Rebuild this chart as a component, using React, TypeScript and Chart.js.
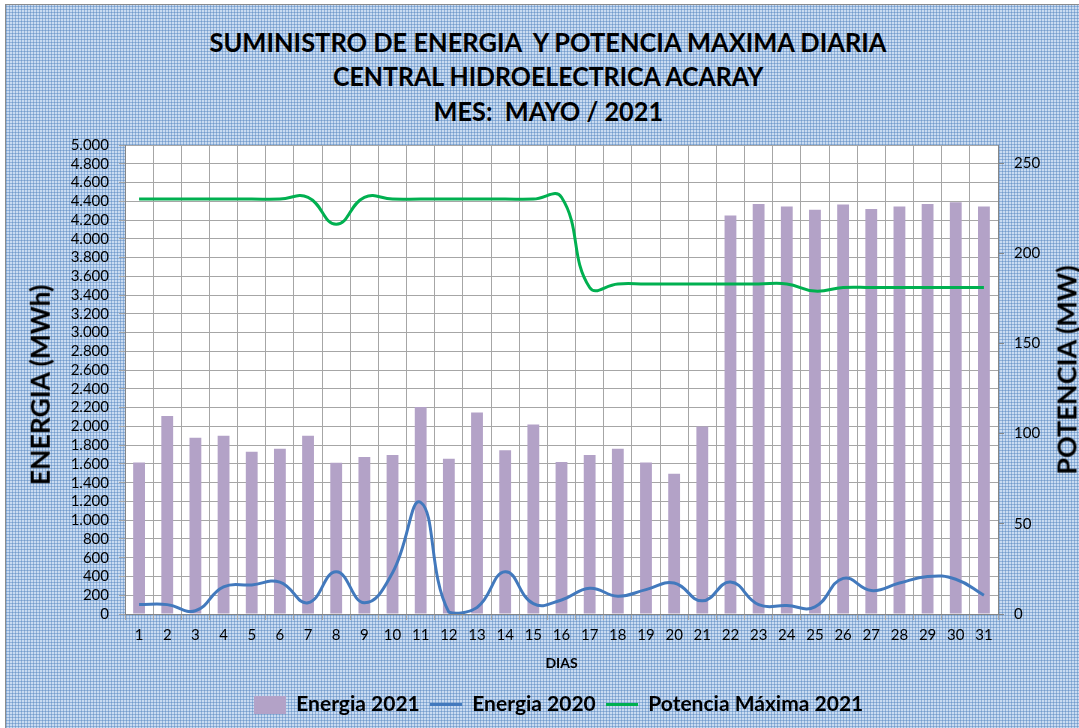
import React, { useEffect, useRef } from 'react';
import { Chart, registerables } from 'chart.js';

Chart.register(...registerables);

const DAYS = ['1','2','3','4','5','6','7','8','9','10','11','12','13','14','15','16','17','18','19','20','21','22','23','24','25','26','27','28','29','30','31'];
const ENERGIA_2021 = [1615, 2110, 1880, 1900, 1730, 1763, 1900, 1612, 1674, 1695, 2206, 1656, 2147, 1745, 2021, 1621, 1695, 1763, 1615, 1495, 2000, 4248, 4372, 4344, 4309, 4365, 4319, 4344, 4372, 4390, 4344];
const ENERGIA_2020 = [100, 100, 35, 290, 310, 340, 120, 450, 120, 440, 1190, 20, 70, 450, 110, 150, 275, 190, 260, 330, 140, 340, 100, 90, 75, 380, 250, 330, 400, 370, 200];
const POTENCIA_2021 = [230, 230, 230, 230, 230, 230, 231, 216, 231, 230, 230, 230, 230, 230, 230, 231, 181, 183, 183, 183, 183, 183, 183, 183, 179, 181, 181, 181, 181, 181, 181];

const SERIES_LABELS = ['Energia 2021', 'Energia 2020', 'Potencia Máxima 2021'];
const TITLE_LINES = ['SUMINISTRO DE ENERGIA  Y POTENCIA MAXIMA DIARIA', 'CENTRAL HIDROELECTRICA ACARAY', 'MES:  MAYO / 2021'];
const X_TITLE = 'DIAS';
const LEFT_TITLE = 'ENERGIA (MWh)';
const RIGHT_TITLE = 'POTENCIA (MW)';
const LEFT_MIN = 0;
const LEFT_MAX = 5000;
const LEFT_STEP = 200;
const RIGHT_MIN = 0;
const RIGHT_MAX = 260;
const RIGHT_STEP = 50;

const FONT = 'Lato, "Open Sans", "Liberation Sans", sans-serif';
const BAR_COLOR = '#b3a2c7';
const BLUE = '#4279bd';
const GREEN = '#00b050';
const GRID = '#a6a6a6';
const AXIS = '#868686';

const fmtThousands = (v: number) => String(Math.round(v)).replace(/\B(?=(\d{3})+(?!\d))/g, '.');

const plotBg = {
  id: 'plotBg',
  beforeDraw(chart: any) {
    const { ctx, chartArea: a } = chart;
    ctx.save();
    ctx.fillStyle = '#ffffff';
    ctx.fillRect(a.left, a.top, a.right - a.left, a.bottom - a.top);
    ctx.restore();
  },
};

function makeBox(w: number, h: number, color: string) {
  const c = document.createElement('canvas');
  c.width = w;
  c.height = h;
  const g = c.getContext('2d')!;
  g.fillStyle = color;
  g.fillRect(0, 0, w, h);
  return c;
}

const TITLE_TARGETS = [
  { center: 42, width: 677 },
  { center: 76, width: 430 },
  { center: 111, width: 230 },
];

const LEFT_PAD = 38;

export default function App() {
  const canvasRef = useRef<HTMLCanvasElement | null>(null);
  const spanRefs = useRef<(HTMLSpanElement | null)[]>([]);

  useEffect(() => {
    spanRefs.current.forEach((s, i) => {
      if (!s) return;
      const w = s.offsetWidth;
      if (w > 0) s.style.transform = `scaleX(${TITLE_TARGETS[i].width / w})`;
    });
  }, []);

  useEffect(() => {
    if (!canvasRef.current) return;
    const barIcon = makeBox(32, 18, BAR_COLOR);
    const blueIcon = makeBox(32, 3, BLUE);
    const greenIcon = makeBox(32, 3, GREEN);
    const icons = [barIcon, blueIcon, greenIcon];

    const chart = new Chart(canvasRef.current, {
      type: 'bar',
      data: {
        labels: DAYS,
        datasets: [
          {
            type: 'bar',
            label: SERIES_LABELS[0],
            data: ENERGIA_2021,
            backgroundColor: BAR_COLOR,
            borderWidth: 0,
            barPercentage: 0.42,
            categoryPercentage: 1,
            yAxisID: 'y',
            order: 2,
          },
          {
            type: 'line',
            label: SERIES_LABELS[1],
            data: ENERGIA_2020,
            borderColor: BLUE,
            backgroundColor: BLUE,
            borderWidth: 3,
            pointRadius: 0,
            tension: 0.45,
            fill: false,
            yAxisID: 'y',
            order: 1,
          },
          {
            type: 'line',
            label: SERIES_LABELS[2],
            data: POTENCIA_2021,
            borderColor: GREEN,
            backgroundColor: GREEN,
            borderWidth: 3,
            pointRadius: 0,
            tension: 0.45,
            fill: false,
            yAxisID: 'y1',
            order: 0,
          },
        ],
      } as any,
      options: {
        responsive: false,
        animation: false,
        layout: { padding: { top: 145, bottom: 3, left: LEFT_PAD, right: 0 } },
        plugins: {
          tooltip: { enabled: false },
          title: { display: false },
          legend: {
            position: 'bottom',
            labels: {
              font: { family: FONT, size: 21, weight: 'bold' },
              color: '#000',
              usePointStyle: true,
              pointStyleWidth: 32,
              boxHeight: 18,
              padding: 10,
              generateLabels: (ch: any) =>
                ch.data.datasets.map((ds: any, i: number) => ({
                  text: ds.label,
                  fillStyle: ds.backgroundColor,
                  strokeStyle: ds.backgroundColor,
                  lineWidth: 0,
                  pointStyle: icons[i],
                  hidden: false,
                  datasetIndex: i,
                  fontColor: '#000',
                })),
            },
          },
        },
        scales: {
          x: {
            type: 'category',
            offset: true,
            grid: { offset: true, color: GRID, tickLength: 6 },
            border: { color: AXIS },
            ticks: { font: { family: FONT, size: 15 }, color: '#000', padding: 6, autoSkip: false, maxRotation: 0 },
            title: {
              display: true,
              text: X_TITLE,
              color: '#000',
              align: 'center',
              font: { family: FONT, size: 14, weight: 'bold' },
              padding: { top: 0, bottom: 12 },
            },
            afterFit: (s: any) => { s.height = 70; },
          },
          y: {
            type: 'linear',
            position: 'left',
            min: LEFT_MIN,
            max: LEFT_MAX,
            ticks: {
              stepSize: LEFT_STEP,
              autoSkip: false,
              font: { family: FONT, size: 15 },
              color: '#000',
              padding: 10,
              callback: (v: any) => fmtThousands(Number(v)),
            },
            grid: { color: GRID, tickLength: 6 },
            border: { color: AXIS },
            afterFit: (s: any) => { s.width = 125 - LEFT_PAD; },
          },
          y1: {
            type: 'linear',
            position: 'right',
            min: RIGHT_MIN,
            max: RIGHT_MAX,
            afterBuildTicks: (s: any) => { s.ticks = s.ticks.filter((t: any) => t.value % RIGHT_STEP === 0); },
            ticks: {
              stepSize: RIGHT_STEP,
              font: { family: FONT, size: 15 },
              color: '#000',
              padding: 10,
            },
            grid: { drawOnChartArea: false, color: AXIS, tickLength: 6 },
            border: { color: AXIS },
            afterFit: (s: any) => { s.width = 81; },
          },
        },
      } as any,
      plugins: [plotBg],
    });
    return () => chart.destroy();
  }, []);

  const bg: React.CSSProperties = {
    position: 'absolute',
    left: 5,
    top: 4,
    width: 1100,
    height: 740,
    borderLeft: '1px solid #8c8c8c',
    borderTop: '1px solid #8c8c8c',
    backgroundColor: '#c9dbf1',
    backgroundImage:
      'repeating-linear-gradient(90deg, rgba(79,129,189,0.45) 0px, rgba(79,129,189,0.45) 1px, transparent 1px, transparent 3px),' +
      'repeating-linear-gradient(0deg, rgba(79,129,189,0.45) 0px, rgba(79,129,189,0.45) 1px, transparent 1px, transparent 3px)',
  };

  const axisTitle = (cx: number, cy: number, size: number): React.CSSProperties => ({
    position: 'absolute',
    left: cx,
    top: cy,
    transform: 'translate(-50%, -50%) rotate(-90deg)',
    fontFamily: FONT,
    fontWeight: 'bold',
    fontSize: size,
    lineHeight: 1,
    color: '#000',
    whiteSpace: 'nowrap',
  });

  return (
    <div style={{ position: 'fixed', left: 0, top: 0, width: 1079, height: 728, overflow: 'hidden', background: '#fff' }}>
      <div style={bg} />
      {TITLE_LINES.map((t, i) => (
        <div
          key={i}
          style={{
            position: 'absolute',
            left: 8,
            width: 1080,
            top: TITLE_TARGETS[i].center - 14,
            textAlign: 'center',
            fontFamily: FONT,
            fontWeight: 'bold',
            fontSize: 27,
            lineHeight: '27px',
            color: '#000',
            whiteSpace: 'pre',
          }}
        >
          <span ref={(el) => { spanRefs.current[i] = el; }} style={{ display: 'inline-block', transformOrigin: 'center' }}>
            {t}
          </span>
        </div>
      ))}
      <canvas ref={canvasRef} width={1079} height={728} style={{ position: 'absolute', left: 0, top: 0 }} />
      <div style={axisTitle(40, 385, 26.5)}>{LEFT_TITLE}</div>
      <div style={axisTitle(1066, 370, 27)}>{RIGHT_TITLE}</div>
    </div>
  );
}
